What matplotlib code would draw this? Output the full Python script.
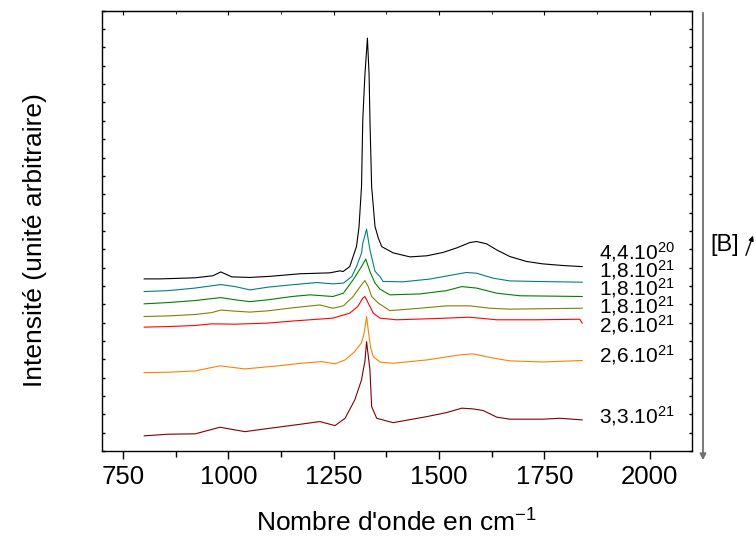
import matplotlib
matplotlib.use("Agg")
import matplotlib.pyplot as plt
from matplotlib.patches import FancyArrowPatch
from matplotlib.ticker import MultipleLocator

plt.rcParams["font.family"] = ["Liberation Sans", "DejaVu Sans"]
plt.rcParams["mathtext.default"] = "regular"

# Raman spectra, offset vertically (wavenumber in cm-1, arbitrary intensity)
wn_black = [800, 838, 921, 963, 982, 1008, 1051, 1099, 1170, 1241, 1265, 1272, 1288, 1304, 1310,
            1316, 1319, 1324, 1330, 1334, 1336, 1340, 1348, 1356, 1364, 1391, 1431, 1471, 1509,
            1542, 1573, 1589, 1613, 1637, 1668, 1708, 1746, 1794, 1840]
i_black = [9.38, 9.38, 9.44, 9.55, 9.76, 9.49, 9.46, 9.52, 9.66, 9.71, 9.82, 9.78, 10.05, 11.14, 12.2,
           14.42, 18.06, 20.5, 22.51, 20.5, 18.06, 14.42, 12.24, 11.6, 11.14, 10.80, 10.58, 10.64, 10.82,
           11.07, 11.36, 11.42, 11.29, 10.96, 10.60, 10.33, 10.20, 10.11, 10.05]

wn_teal = [800, 857, 921, 982, 1016, 1051, 1094, 1151, 1209, 1248, 1273, 1293, 1304, 1316, 1319,
           1328, 1336, 1348, 1360, 1367, 1414, 1478, 1533, 1565, 1589, 1628, 1668, 1731, 1840]
i_teal = [8.69, 8.74, 8.88, 9.07, 8.96, 8.78, 8.93, 9.06, 9.18, 9.11, 9.15, 9.51, 10.05, 10.78, 11.33,
          12.09, 10.96, 9.80, 9.50, 9.24, 9.22, 9.37, 9.60, 9.73, 9.69, 9.42, 9.27, 9.24, 9.20]

wn_green = [800, 857, 921, 982, 1016, 1051, 1094, 1151, 1194, 1248, 1273, 1296, 1316, 1326, 1336,
            1348, 1360, 1383, 1455, 1518, 1554, 1589, 1637, 1692, 1840]
i_green = [8.02, 8.09, 8.20, 8.36, 8.24, 8.14, 8.24, 8.42, 8.51, 8.42, 8.60, 9.33, 10.05, 10.46, 9.78,
           9.15, 8.82, 8.51, 8.56, 8.74, 8.96, 8.88, 8.60, 8.46, 8.42]

wn_olive = [800, 857, 921, 960, 982, 1016, 1051, 1094, 1151, 1217, 1248, 1273, 1296, 1316, 1324,
            1332, 1340, 1356, 1383, 1455, 1518, 1573, 1621, 1668, 1840]
i_olive = [7.33, 7.36, 7.44, 7.54, 7.68, 7.62, 7.57, 7.64, 7.80, 7.96, 7.78, 7.91, 8.42, 9.06, 9.29,
           8.96, 8.42, 8.06, 7.65, 7.78, 7.91, 7.91, 7.78, 7.73, 7.78]

wn_red = [800, 857, 921, 960, 1016, 1094, 1151, 1194, 1248, 1288, 1307, 1319, 1324, 1332, 1344,
          1360, 1399, 1494, 1573, 1637, 1731, 1834, 1840]
i_red = [6.75, 6.78, 6.84, 6.93, 6.91, 6.97, 7.08, 7.15, 7.24, 7.51, 7.87, 8.33, 8.42, 8.06, 7.51,
         7.24, 7.15, 7.22, 7.29, 7.15, 7.15, 7.18, 6.97]

wn_orange = [800, 857, 921, 980, 1039, 1118, 1173, 1221, 1253, 1277, 1300, 1316, 1322, 1328, 1333,
             1338, 1344, 1360, 1391, 1471, 1550, 1581, 1629, 1668, 1747, 1840]
i_orange = [4.27, 4.29, 4.36, 4.64, 4.47, 4.64, 4.78, 4.87, 4.75, 4.96, 5.42, 5.90, 6.40, 7.33, 6.40,
            5.60, 5.14, 4.84, 4.78, 4.96, 5.24, 5.29, 5.06, 4.91, 4.85, 4.93]

wn_brown = [800, 857, 921, 980, 1039, 1110, 1173, 1217, 1253, 1277, 1300, 1316, 1320, 1324, 1328,
            1336, 1340, 1352, 1391, 1471, 1518, 1554, 1581, 1605, 1637, 1668, 1747, 1787, 1840]
i_brown = [0.82, 0.91, 0.93, 1.29, 1.05, 1.27, 1.46, 1.60, 1.38, 1.78, 2.78, 3.87, 4.40, 4.87, 5.96,
           4.42, 2.42, 1.78, 1.54, 1.87, 2.09, 2.33, 2.29, 2.20, 1.84, 1.73, 1.73, 1.78, 1.69]

series = [
    (wn_black, i_black, "black"),
    (wn_teal, i_teal, "#008080"),
    (wn_green, i_green, "#008000"),
    (wn_olive, i_olive, "#808000"),
    (wn_red, i_red, "#ff0000"),
    (wn_orange, i_orange, "#ff8000"),
    (wn_brown, i_brown, "#800000"),
]

labels = ["4,4.10$^{20}$", "1,8.10$^{21}$", "1,8.10$^{21}$", "1,8.10$^{21}$",
          "2,6.10$^{21}$", "2,6.10$^{21}$", "3,3.10$^{21}$"]
label_y = [10.85, 9.85, 8.87, 7.88, 6.85, 5.2, 1.88]

fig = plt.figure(figsize=(7.56, 5.4), dpi=100)
ax = fig.add_axes([0.135, 0.165, 0.780, 0.815])

for wn, inten, color in series:
    ax.plot(wn, inten, color=color, lw=0.8)

for text, y in zip(labels, label_y):
    ax.text(1880, y, text, fontsize=15, va="center", ha="left")

ax.set_xlim(700, 2100)
ax.set_ylim(0, 24)
ax.xaxis.set_major_locator(MultipleLocator(250))
ax.xaxis.set_minor_locator(MultipleLocator(125))
ax.yaxis.set_major_locator(MultipleLocator(1))
ax.set_yticklabels([])
ax.tick_params(axis="x", which="major", direction="out", length=6, width=1, labelsize=18.5,
               pad=4)
ax.tick_params(axis="x", which="minor", direction="out", length=4, width=1)
ax.tick_params(axis="y", which="major", direction="in", length=2, width=1, right=True)
for spine in ax.spines.values():
    spine.set_linewidth(1.0)

# small inward ticks along the top spine
top = ax.secondary_xaxis("top")
top.xaxis.set_major_locator(MultipleLocator(250))
top.xaxis.set_minor_locator(MultipleLocator(125))
top.tick_params(which="major", direction="in", length=3, labeltop=False)
top.tick_params(which="minor", direction="in", length=2)

ax.set_xlabel("Nombre d'onde en cm$^{-1}$", fontsize=19, labelpad=15)
fig.text(35 / 756, 1 - 240 / 540, "Intensité (unité arbitraire)", fontsize=19,
         rotation=90, ha="center", va="center")

# concentration arrow on the right
fig.add_artist(FancyArrowPatch(
    (703 / 756, 1 - 10 / 540), (703 / 756, 1 - 463 / 540), transform=fig.transFigure,
    arrowstyle="-|>", mutation_scale=9, color="#707070", lw=1.3))
fig.text(710 / 756, 1 - 245 / 540, "[B]", fontsize=17, va="center", ha="left")
fig.add_artist(FancyArrowPatch(
    (745 / 756, 1 - 258 / 540), (754 / 756, 1 - 233 / 540), transform=fig.transFigure,
    arrowstyle="-|>", mutation_scale=7, color="black", lw=1.0))

fig.savefig("out.png", dpi=100)
